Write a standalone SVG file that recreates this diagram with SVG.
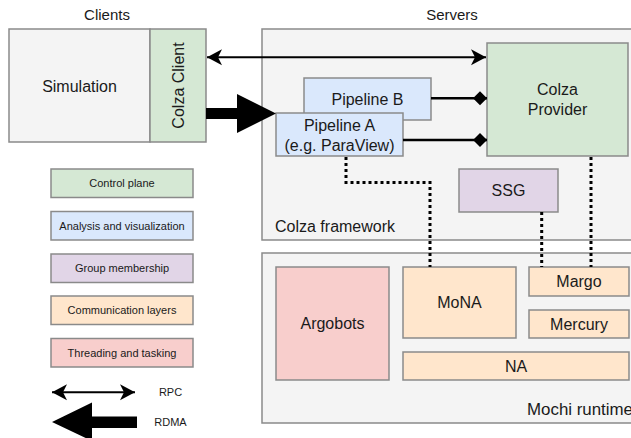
<svg xmlns="http://www.w3.org/2000/svg" width="631" height="438" viewBox="0 0 631 438">
<defs>
<style>
text{font-family:"Liberation Sans",Arial,sans-serif;fill:#1a1a1a}
.t16{font-size:16px}
.t15{font-size:15px}
.t11{font-size:11px}
.box{stroke:#8a8a8a;stroke-width:1.5}
.gray{fill:#f4f4f4}
.green{fill:#d5e8d4}
.blue{fill:#dae8fc}
.purple{fill:#e1d5e7}
.orange{fill:#ffe6cc}
.red{fill:#f8cecc}
.rpc{stroke:#000;stroke-width:2;fill:none}
.dot{stroke:#000;stroke-width:3;stroke-dasharray:3 3;fill:none}
</style>
<marker id="ah" markerUnits="userSpaceOnUse" markerWidth="18" markerHeight="18" viewBox="0 0 18 18" refX="16" refY="9" orient="auto-start-reverse">
<path d="M16,9 L1,1 L5,9 L1,17 Z" fill="#000"/>
</marker>
<marker id="dia" markerUnits="userSpaceOnUse" markerWidth="16" markerHeight="16" viewBox="0 0 16 16" refX="15" refY="8" orient="auto">
<path d="M1,8 L8,1 L15,8 L8,15 Z" fill="#000"/>
</marker>
</defs>

<text class="t15" x="107" y="20" text-anchor="middle">Clients</text>
<text class="t15" x="452" y="20" text-anchor="middle">Servers</text>

<g id="colza-framework">
<rect class="box gray" x="262" y="29" width="380" height="211"/>
<text class="t16" x="275" y="232">Colza framework</text>
</g>
<g id="mochi-runtime">
<rect class="box gray" x="262" y="253" width="380" height="170"/>
<text class="t16" x="527" y="415" textLength="106" lengthAdjust="spacingAndGlyphs">Mochi runtime</text>
</g>

<g id="simulation">
<rect class="box gray" x="9" y="29" width="141" height="113"/>
<text class="t16" x="79.5" y="92" text-anchor="middle">Simulation</text>
</g>
<g id="colza-client">
<rect class="box green" x="150" y="29" width="56" height="113"/>
<text class="t16" x="0" y="0" text-anchor="middle" transform="translate(184,85.5) rotate(-90)">Colza Client</text>
</g>

<g id="colza-provider">
<rect class="box green" x="487" y="43" width="141" height="113"/>
<text class="t16" x="557.5" y="95" text-anchor="middle">Colza</text>
<text class="t16" x="557.5" y="115" text-anchor="middle">Provider</text>
</g>

<g id="pipeline-b">
<rect class="box blue" x="304" y="78" width="127" height="42"/>
<text class="t16" x="367.5" y="105" text-anchor="middle">Pipeline B</text>
</g>
<g id="pipeline-a">
<rect class="box blue" x="276" y="113" width="127" height="43"/>
<text class="t16" x="339.5" y="131" text-anchor="middle">Pipeline A</text>
<text class="t16" x="339.5" y="151" text-anchor="middle">(e.g. ParaView)</text>
</g>

<g id="ssg">
<rect class="box purple" x="459" y="169" width="99" height="43"/>
<text class="t16" x="508.5" y="196" text-anchor="middle">SSG</text>
</g>

<g id="argobots">
<rect class="box red" x="276" y="267" width="113" height="113"/>
<text class="t16" x="332.5" y="329" text-anchor="middle">Argobots</text>
</g>
<g id="mona">
<rect class="box orange" x="403" y="267" width="113" height="71"/>
<text class="t16" x="459.5" y="308" text-anchor="middle">MoNA</text>
</g>
<g id="margo">
<rect class="box orange" x="529" y="267" width="100" height="29"/>
<text class="t16" x="579" y="287" text-anchor="middle">Margo</text>
</g>
<g id="mercury">
<rect class="box orange" x="529" y="310" width="100" height="28"/>
<text class="t16" x="579" y="330" text-anchor="middle">Mercury</text>
</g>
<g id="na">
<rect class="box orange" x="403" y="352" width="226" height="28"/>
<text class="t16" x="516" y="372" text-anchor="middle">NA</text>
</g>

<g id="connectors">
<line class="rpc" x1="207" y1="57.3" x2="486" y2="57.3" marker-start="url(#ah)" marker-end="url(#ah)"/>
<path d="M206,108 H237 V94 L276,113.5 L237,133 V119 H206 Z" fill="#000"/>
<line x1="431" y1="98.3" x2="487" y2="98.3" stroke="#000" stroke-width="2.5" marker-end="url(#dia)"/>
<line x1="403" y1="140" x2="487" y2="140" stroke="#000" stroke-width="2.5" marker-end="url(#dia)"/>
<path class="dot" d="M346,157 V182.5 H430 V267"/>
<path class="dot" d="M541.7,212 V267"/>
<path class="dot" d="M591,157 V267"/>
</g>

<g id="legend">
<g id="legend-control">
<rect class="box green" x="51" y="169" width="142" height="28.5"/>
<text class="t11" x="122" y="187" text-anchor="middle">Control plane</text>
</g>
<g id="legend-analysis">
<rect class="box blue" x="51" y="211.5" width="142" height="28.5"/>
<text class="t11" x="122" y="229.5" text-anchor="middle">Analysis and visualization</text>
</g>
<g id="legend-group">
<rect class="box purple" x="51" y="254" width="142" height="28.5"/>
<text class="t11" x="122" y="272" text-anchor="middle">Group membership</text>
</g>
<g id="legend-comm">
<rect class="box orange" x="51" y="296" width="142" height="28.5"/>
<text class="t11" x="122" y="314" text-anchor="middle">Communication layers</text>
</g>
<g id="legend-thread">
<rect class="box red" x="51" y="338.5" width="142" height="28.5"/>
<text class="t11" x="122" y="356.5" text-anchor="middle">Threading and tasking</text>
</g>
<line class="rpc" x1="52" y1="392.3" x2="135" y2="392.3" marker-start="url(#ah)" marker-end="url(#ah)"/>
<text class="t11" x="170.5" y="396" text-anchor="middle">RPC</text>
<path d="M137,416.5 H92 V402.5 L52,422 L92,441 V428 H137 Z" fill="#000"/>
<text class="t11" x="170.5" y="426" text-anchor="middle">RDMA</text>
</g>
</svg>
